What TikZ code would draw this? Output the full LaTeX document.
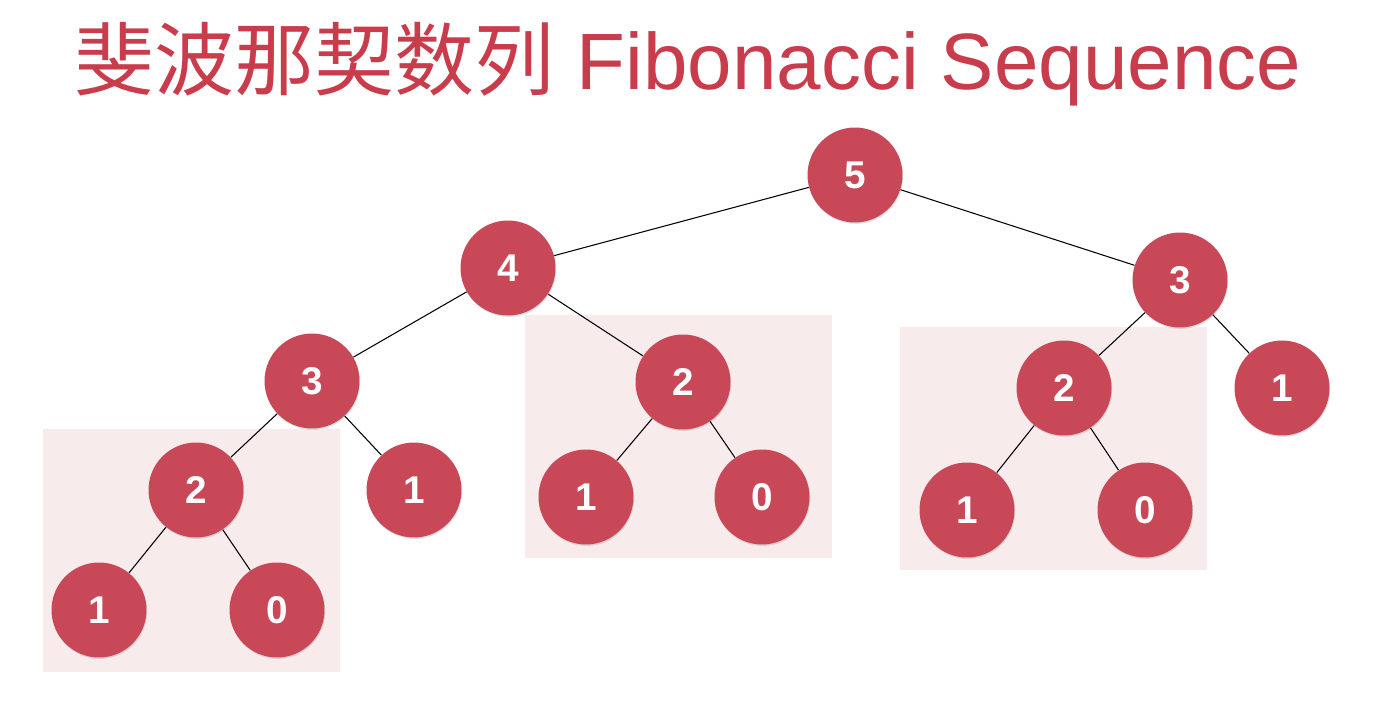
\documentclass[tikz,border=0pt]{standalone}
\usepackage{xcolor}
\usepackage{tikz}
\usepackage{fontspec}
\setmainfont{Liberation Sans}
\newfontfamily\cjk{Noto Sans CJK SC}
\usetikzlibrary{shadows}
\definecolor{fibred}{RGB}{200,72,88}
\definecolor{titlered}{RGB}{200,60,75}
\definecolor{boxpink}{RGB}{247,235,236}
\tikzset{
	fib/.style={circle,fill=fibred,minimum size=1.9cm,inner sep=0pt,text=white,
		font=\fontsize{22}{24}\selectfont\bfseries,
		drop shadow={opacity=0.25,shadow xshift=0.4pt,shadow yshift=-0.8pt}},
	subtree/.style={fill=boxpink,draw=none}
}

\begin{document}
\begin{tikzpicture}[x=0.02cm,y=-0.02cm]
			\useasboundingbox (0,0) rectangle (1379,713);
			\fill[subtree] (43,429) rectangle (340,672);
			\fill[subtree] (525,315) rectangle (832,558);
			\fill[subtree] (900,327) rectangle (1207,570);
			\node[text=titlered,font=\fontsize{45.5}{50}\selectfont] (title) at (688,64) {{\cjk 斐波那契数列} Fibonacci Sequence};
			% level 0 and 1
			\node[fib] (f5) at (855,175) {5};
			\node[fib] (f4) at (508,268) {4};
			\node[fib] (f3r) at (1180,280) {3};
			% level 2
			\node[fib] (f3l) at (312,381) {3};
			\node[fib] (f2m) at (683,382) {2};
			\node[fib] (f2r) at (1064,388) {2};
			\node[fib] (f1r) at (1282,388) {1};
			% level 3
			\node[fib] (f2l) at (196,490) {2};
			\node[fib] (f1l) at (414,490) {1};
			\node[fib] (f1m) at (586,497) {1};
			\node[fib] (f0m) at (762,497) {0};
			\node[fib] (f1rb) at (967,510) {1};
			\node[fib] (f0rb) at (1145,510) {0};
			% level 4
			\node[fib] (f1lb) at (99,610) {1};
			\node[fib] (f0lb) at (277,610) {0};
			\foreach \a/\b in {f5/f4,f5/f3r,f4/f3l,f4/f2m,f3r/f2r,f3r/f1r,f3l/f2l,f3l/f1l,f2m/f1m,f2m/f0m,f2r/f1rb,f2r/f0rb,f2l/f1lb,f2l/f0lb}{
				\draw[line width=0.6pt] (\a) -- (\b);
			}
		\end{tikzpicture}
\end{document}
